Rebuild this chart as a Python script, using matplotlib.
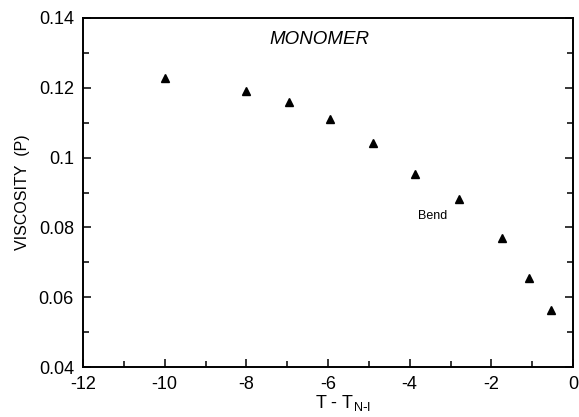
import numpy as np
import matplotlib
matplotlib.use('Agg')
import matplotlib.pyplot as plt
from matplotlib.ticker import MultipleLocator, FixedLocator, FixedFormatter

plt.rcParams['font.family'] = ['Liberation Sans', 'DejaVu Sans']
plt.rcParams['axes.unicode_minus'] = False

# data
dt = [-10.0, -8.0, -6.96, -5.94, -4.9, -3.87, -2.78, -1.75, -1.07, -0.55]
visc = [0.1227, 0.1191, 0.116, 0.1111, 0.1041, 0.0952, 0.0881, 0.0769, 0.0654, 0.0563]
yticks = [0.04, 0.06, 0.08, 0.1, 0.12, 0.14]
ylabels = ['0.04', '0.06', '0.08', '0.1', '0.12', '0.14']

fig = plt.figure(figsize=(5.79, 4.17), dpi=100)
ax = fig.add_axes([83/579, 1-367/417, 490/579, 349/417])

ax.plot(dt, visc, '^', color='black', markersize=6)
ax.set_xlim(-12, 0)
ax.set_ylim(0.04, 0.14)

ax.xaxis.set_major_locator(MultipleLocator(2))
ax.xaxis.set_minor_locator(MultipleLocator(1))
ax.yaxis.set_major_locator(FixedLocator(yticks))
ax.yaxis.set_major_formatter(FixedFormatter(ylabels))
ax.yaxis.set_minor_locator(MultipleLocator(0.01))
ax.tick_params(which='both', direction='in', right=True, top=False, labelsize=13)
ax.tick_params(axis='x', pad=6.5)
ax.tick_params(axis='y', pad=6.5)
ax.tick_params(which='major', length=6, width=1.1)
ax.tick_params(which='minor', length=4, width=1.1)
for s in ax.spines.values():
    s.set_linewidth(1.4)

ax.text(-6.2, 0.1337, 'MONOMER', fontsize=13.5, style='italic', ha='center', va='center')
ax.text(-3.44, 0.0833, 'Bend', fontsize=9, ha='center', va='center')

ax.set_xlabel('T - T$_{\\mathregular{N\\text{-}I}}$', fontsize=13, labelpad=0)
ax.xaxis.set_label_coords(0.53, -0.075)
ax.set_ylabel('VISCOSITY  (P)', fontsize=11.5)
ax.yaxis.set_label_coords(-0.108, 0.5)

fig.savefig('out.png', dpi=100)
